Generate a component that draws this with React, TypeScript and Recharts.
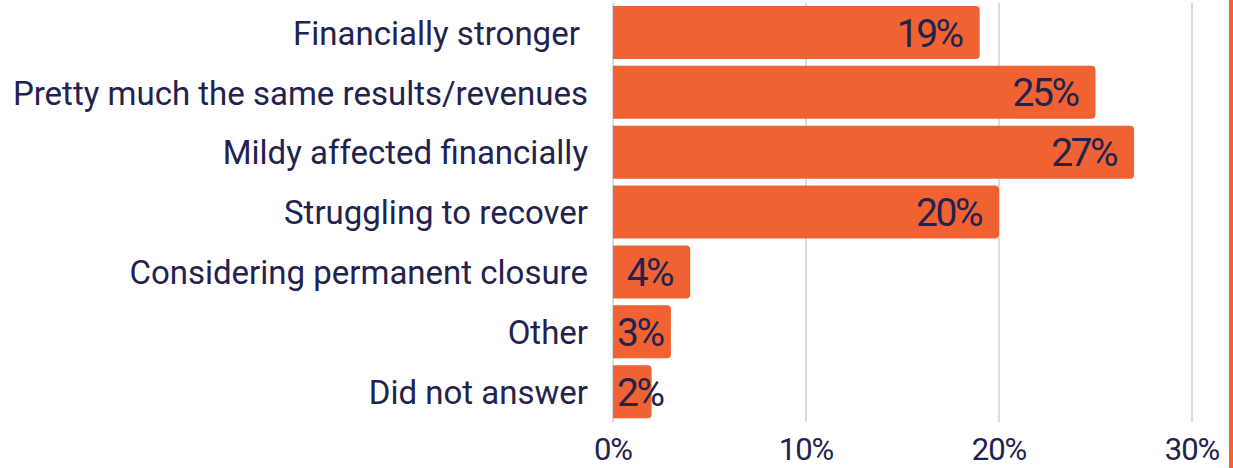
import { Bar, BarChart, CartesianGrid, LabelList, XAxis, YAxis } from "recharts";

const categories = [
	"Financially stronger\u00a0",
	"Pretty much the same results/revenues",
	"Mildy affected financially",
	"Struggling to recover",
	"Considering permanent closure",
	"Other",
	"Did not answer",
];
const shares = [19, 25, 27, 20, 4, 3, 2];
const xTicks = [0, 10, 20, 30];

const data = categories.map((name, i) => ({ name, value: shares[i] }));

const FONT = "Roboto, sans-serif";
const NAVY = "#23224f";
const ORANGE = "#f16232";

const ValueLabel = (props: any) => {
	const { x, y, width, height, value } = props;
	const fitsInside = width > 70;
	return (
		<text
			x={fitsInside ? x + width - 18 : x + 4}
			y={y + height / 2 + 14}
			textAnchor={fitsInside ? "end" : "start"}
			fill={NAVY}
			fontSize={39}
			letterSpacing={-2.5}
			fontFamily={FONT}
		>
			{`${value}%`}
		</text>
	);
};

export default function App() {
	return (
		<div style={{ position: "absolute", left: 0, top: 0, width: 1233, height: 468, background: "#fff" }}>
			<BarChart
				width={1233}
				height={468}
				data={data}
				layout="vertical"
				margin={{ top: 3, right: 41, bottom: 0, left: 0 }}
				barSize={53}
			>
				<CartesianGrid horizontal={false} stroke="#cfcfda" strokeWidth={1.5} />
				<XAxis
					type="number"
					domain={[0, 30]}
					ticks={xTicks}
					tickFormatter={(v) => `${v}%`}
					axisLine={false}
					tickLine={false}
					tickMargin={10}
					height={46}
					tick={{ fill: NAVY, fontSize: 31, fontFamily: FONT, letterSpacing: -1 }}
					interval={0}
				/>
				<YAxis
					type="category"
					dataKey="name"
					width={613}
					axisLine={false}
					tickLine={false}
					tickSize={0}
					tickMargin={25}
					interval={0}
					tick={{ fill: NAVY, fontSize: 33, fontFamily: FONT }}
				/>
				<Bar dataKey="value" fill={ORANGE} radius={[0, 4, 4, 0]} isAnimationActive={false}>
					<LabelList dataKey="value" content={ValueLabel} />
				</Bar>
			</BarChart>
			<div style={{ position: "absolute", left: 1229, top: 0, width: 4, height: 468, background: ORANGE }} />
		</div>
	);
}
